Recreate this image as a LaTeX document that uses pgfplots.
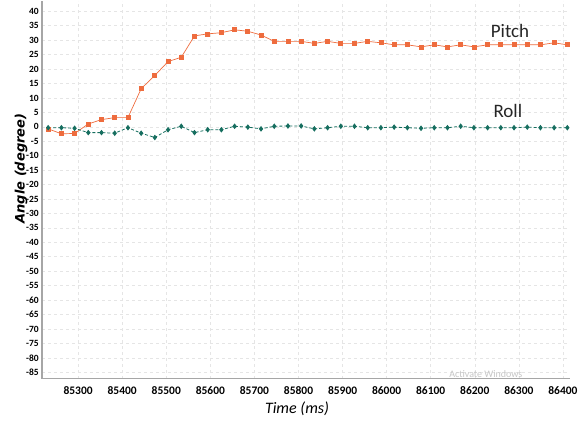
\documentclass[border=0pt]{standalone}
\usepackage{pgfplots}
\pgfplotsset{compat=1.18}
\usepackage{pgfplotstable}
\usepackage{fontspec}
\setmainfont{Carlito}
\newfontfamily\labfont{DejaVu Sans}
\definecolor{pitchc}{RGB}{238,108,62}
\definecolor{rollc}{RGB}{22,110,95}
\pgfplotstableread{
t pitch roll
85232 -0.7 -0.3
85262 -2.4 -0.3
85292 -2.3 -0.5
85323 1.0 -2.0
85353 2.5 -2.0
85383 3.2 -2.2
85413 3.2 -0.3
85443 13.2 -2.2
85474 17.8 -3.7
85504 22.6 -1.0
85534 24.1 0.2
85564 31.5 -2.0
85594 32.2 -1.0
85625 32.6 -1.0
85655 33.6 0.2
85685 33.1 -0.1
85715 31.8 -0.7
85745 29.6 0.2
85776 29.6 0.3
85806 29.6 0.3
85836 28.9 -0.7
85866 29.6 -0.3
85896 28.9 0.2
85927 28.9 0.2
85957 29.6 -0.3
85987 29.1 -0.3
86017 28.4 -0.1
86047 28.4 -0.3
86078 27.7 -0.5
86108 28.4 -0.3
86138 27.7 -0.3
86168 28.4 0.2
86198 27.7 -0.3
86229 28.4 -0.3
86259 28.4 -0.3
86289 28.4 -0.3
86319 28.4 -0.1
86349 28.4 -0.3
86380 29.1 -0.3
86410 28.4 -0.3
}\datatable
\begin{document}
\begin{tikzpicture}
\begin{axis}[
  scale only axis,
  width=528pt, height=378pt,
  xmin=85218, xmax=86416,
  ymin=-87.2, ymax=43.7,
  axis x line=bottom, axis y line=left,
  axis line style={-, gray!70, line width=1.3pt},
  xtick={85300,85400,...,86400},
  ytick={-85,-80,...,40},
  scaled x ticks=false,
  xticklabel={\pgfmathprintnumber[fixed,precision=0,set thousands separator={}]{\tick}},
  tick style={draw=none},
  grid=major,
  major grid style={gray!20, dashed, line width=0.6pt},
  /pgf/number format/assume math mode=true,
  /pgf/number format/set thousands separator={},
  xticklabel style={font=\bfseries\fontsize{11.5}{11.5}\selectfont, yshift=-2pt},
  yticklabel style={font=\bfseries\fontsize{9.5}{9.5}\selectfont, inner sep=1pt},
  xlabel={Time (ms)},
  xlabel style={font=\itshape\fontsize{16}{16}\selectfont, at={(axis description cs:0.483,0)}, anchor=center, yshift=-30pt},
  ylabel={\labfont\bfseries\itshape Angle (degree)},
  ylabel style={font=\fontsize{13}{13}\selectfont, at={(axis description cs:0,0.556)}, anchor=center, yshift=21pt},
  clip=false,
]
\addplot[pitchc, line width=0.7pt, mark=square*, mark size=2pt, mark options={solid}] table[x=t, y=pitch] {\datatable};
\addplot[rollc, line width=0.8pt, densely dashed, mark=diamond*, mark size=2.2pt, mark options={solid}] table[x=t, y=roll] {\datatable};
\node[font=\fontsize{19}{19}\selectfont, text=black!85] at (axis cs:86280,33.3) {Pitch};
\node[font=\fontsize{19}{19}\selectfont, text=black!85] at (axis cs:86275,5.6) {Roll};
\node[font=\fontsize{10}{10}\selectfont, text=gray!45] at (axis cs:86225,-85.5) {Activate Windows};
\end{axis}
\path (-42pt,-43pt) rectangle (542pt,378pt);
\end{tikzpicture}
\end{document}
